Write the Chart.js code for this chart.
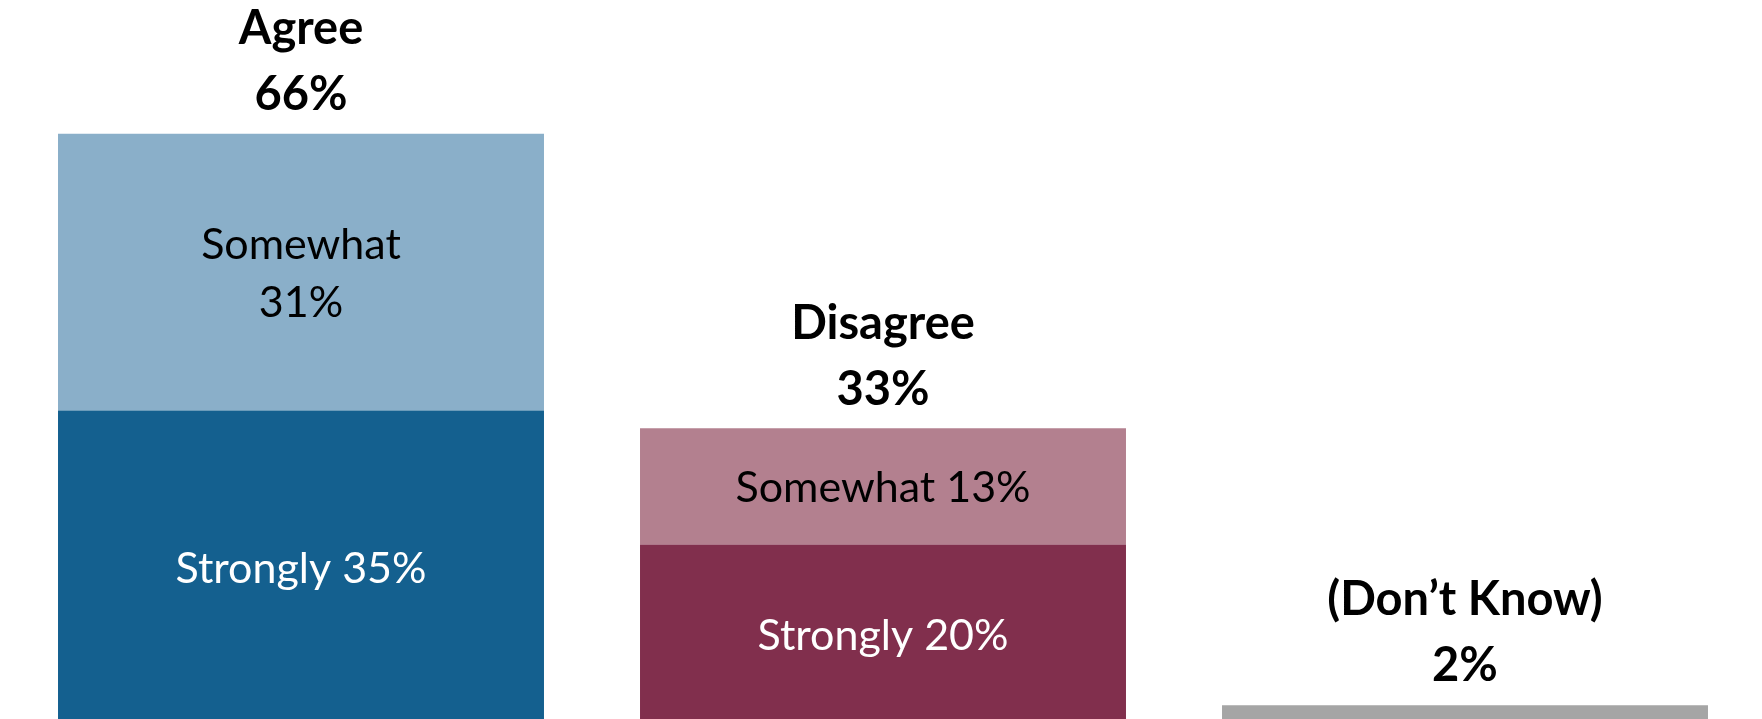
<!DOCTYPE html>
<html>
<head>
<meta charset="utf-8">
<script src="https://cdn.jsdelivr.net/npm/chart.js@4"></script>
<style>
  html, body { margin: 0; padding: 0; background: #fff; overflow: hidden; }
  .wrap { position: relative; width: 1762px; height: 719px; }
</style>
</head>
<body>
<div class="wrap"><canvas id="c"></canvas></div>
<script>
// === data ===
const categories = ["Agree", "Disagree", "(Don\u2019t Know)"];
const totals = [66, 33, 2];
const strongly = [35, 20, 2];
const somewhat = [31, 13, null];

// segment captions (null = no caption)
const stronglyLabels = [["Strongly 35%"], ["Strongly 20%"], null];
const somewhatLabels = [["Somewhat", "31%"], ["Somewhat 13%"], null];

const stronglyColors = ["#14608F", "#812F4D", "#A5A5A5"];
const somewhatColors = ["#8AAFC9", "#B3808F", "#A5A5A5"];
const stronglyText = ["#FFFFFF", "#FFFFFF", "#000000"];
const somewhatText = ["#000000", "#000000", "#000000"];

const FONT = "Lato, 'Open Sans', sans-serif";

// draws captions inside segments and totals over each stack
const labelPlugin = {
  id: "labels",
  afterDatasetsDraw(chart) {
    const ctx = chart.ctx;
    ctx.save();
    ctx.textAlign = "center";
    ctx.textBaseline = "middle";

    const drawSeg = (dsIndex, captions, colors) => {
      const meta = chart.getDatasetMeta(dsIndex);
      meta.data.forEach((bar, i) => {
        const lines = captions[i];
        if (!lines) return;
        const mid = (bar.y + bar.base) / 2 + 2;
        const lh = 58;
        ctx.font = "400 43px " + FONT;
        ctx.fillStyle = colors[i];
        lines.forEach((t, k) => {
          ctx.fillText(t, bar.x, mid + (k - (lines.length - 1) / 2) * lh);
        });
      });
    };
    drawSeg(0, stronglyLabels, stronglyText);
    drawSeg(1, somewhatLabels, somewhatText);

    // totals
    const yScale = chart.scales.y;
    const xScale = chart.scales.x;
    ctx.font = "700 47px " + FONT;
    ctx.fillStyle = "#000";
    categories.forEach((cat, i) => {
      const x = xScale.getPixelForValue(i);
      const top = yScale.getPixelForValue(totals[i]);
      ctx.fillText(cat, x, top - 105);
      ctx.fillText(totals[i] + "%", x, top - 39);
    });
    ctx.restore();
  },
};

new Chart(document.getElementById("c"), {
  type: "bar",
  data: {
    labels: categories,
    datasets: [
      {
        label: "Strongly",
        data: strongly,
        backgroundColor: stronglyColors,
        borderWidth: 0,
      },
      {
        label: "Somewhat",
        data: somewhat,
        backgroundColor: somewhatColors,
        borderWidth: 0,
      },
    ],
  },
  options: {
    responsive: true,
    maintainAspectRatio: false,
    animation: false,
    layout: { padding: { left: 10, right: 6, top: 0, bottom: 0 } },
    datasets: { bar: { categoryPercentage: 1, barPercentage: 0.835 } },
    plugins: {
      legend: { display: false },
      tooltip: { enabled: false },
    },
    scales: {
      x: { stacked: true, display: false },
      y: { stacked: true, display: false, min: 0.45, max: 80.97 },
    },
  },
  plugins: [labelPlugin],
});
</script>
</body>
</html>
